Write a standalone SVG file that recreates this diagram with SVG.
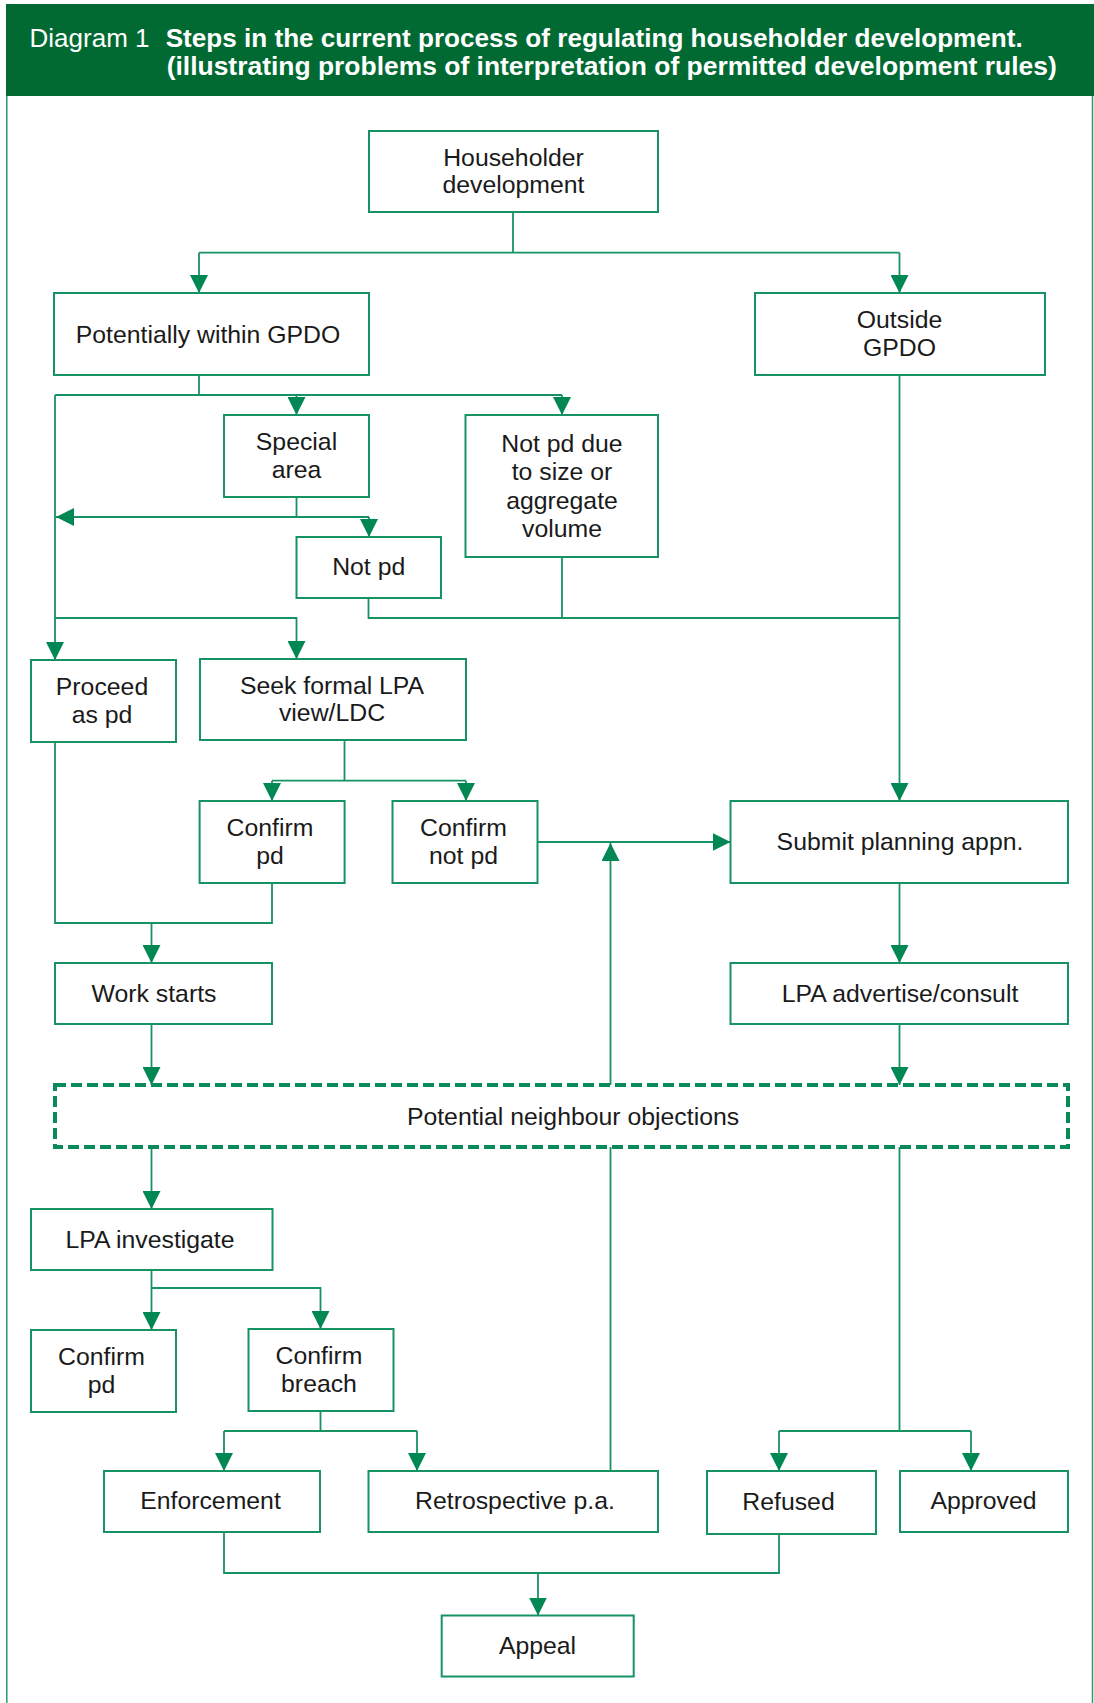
<svg xmlns="http://www.w3.org/2000/svg" width="1094" height="1703" viewBox="0 0 1094 1703">
  <style>
    .box { fill: #ffffff; stroke: #179263; stroke-width: 2; }
    .dash { fill: none; stroke: #0a8a58; stroke-width: 4; stroke-dasharray: 11 5; }
    .ln { fill: none; stroke: #179263; stroke-width: 1.8; }
    .t { font-family: "Liberation Sans", Arial, sans-serif; font-size: 24.8px; fill: #1a1a1a; text-anchor: middle; }
    .hd { font-family: "Liberation Sans", Arial, sans-serif; font-size: 25px; fill: #ffffff; }
    .hb { font-weight: bold; }
    .frame { fill: none; stroke: #2a9a6c; stroke-width: 1.5; }
  </style>
  <defs>
    <marker id="ah" markerUnits="userSpaceOnUse" markerWidth="18" markerHeight="18" viewBox="0 0 18 18" refX="18" refY="9" orient="auto">
      <path d="M0,0 L18,9 L0,18 z" fill="#008754"/>
    </marker>
  </defs>
  <rect x="0" y="0" width="1094" height="1703" fill="#ffffff"/>

  <g id="header">
    <rect x="6" y="4" width="1088" height="92" fill="#006a32"/>
    <line class="frame" x1="6.8" y1="96" x2="6.8" y2="1703"/>
    <line class="frame" x1="1092.5" y1="96" x2="1092.5" y2="1703"/>
    <text class="hd" x="29.5" y="46.5" textLength="120" lengthAdjust="spacingAndGlyphs">Diagram 1</text>
    <text class="hd hb" x="165.7" y="46.5" textLength="857" lengthAdjust="spacingAndGlyphs">Steps in the current process of regulating householder development.</text>
    <text class="hd hb" x="166.7" y="75" textLength="890" lengthAdjust="spacingAndGlyphs">(illustrating problems of interpretation of permitted development rules)</text>
  </g>

  <g id="connectors">
    <path class="ln" d="M513,212 V252.7 M199,252.7 H899.5"/>
    <path class="ln" d="M199,252.7 V293" marker-end="url(#ah)"/>
    <path class="ln" d="M899.5,252.7 V293" marker-end="url(#ah)"/>

    <path class="ln" d="M199,375 V395 M55,395 H562"/>
    <path class="ln" d="M296.5,395 V415" marker-end="url(#ah)"/>
    <path class="ln" d="M562,395 V415" marker-end="url(#ah)"/>
    <path class="ln" d="M55,395 V660" marker-end="url(#ah)"/>

    <path class="ln" d="M296.5,497 V517"/>
    <path class="ln" d="M369,517 H56" marker-end="url(#ah)"/>
    <path class="ln" d="M369,517 V537" marker-end="url(#ah)"/>

    <path class="ln" d="M368.5,598 V618 H899.5"/>
    <path class="ln" d="M562,557 V618"/>
    <path class="ln" d="M899.5,375 V801" marker-end="url(#ah)"/>

    <path class="ln" d="M55,618 H296.5 V659" marker-end="url(#ah)"/>

    <path class="ln" d="M344.5,740 V780.7 M272,780.7 H466"/>
    <path class="ln" d="M272,780.7 V801" marker-end="url(#ah)"/>
    <path class="ln" d="M466,780.7 V801" marker-end="url(#ah)"/>

    <path class="ln" d="M537.5,842 H730.5" marker-end="url(#ah)"/>
    <path class="ln" d="M610.5,1085 V843" marker-end="url(#ah)"/>

    <path class="ln" d="M55,742 V923 H272 V883"/>
    <path class="ln" d="M151.5,923 V963" marker-end="url(#ah)"/>
    <path class="ln" d="M151.5,1024 V1085" marker-end="url(#ah)"/>

    <path class="ln" d="M899.5,883 V963" marker-end="url(#ah)"/>
    <path class="ln" d="M899.5,1024 V1085" marker-end="url(#ah)"/>

    <path class="ln" d="M151.5,1147 V1209" marker-end="url(#ah)"/>
    <path class="ln" d="M151.5,1270 V1330" marker-end="url(#ah)"/>
    <path class="ln" d="M151.5,1288 H320.5 V1329" marker-end="url(#ah)"/>

    <path class="ln" d="M320.5,1411 V1431 M224,1431 H417"/>
    <path class="ln" d="M224,1431 V1471" marker-end="url(#ah)"/>
    <path class="ln" d="M417,1431 V1471" marker-end="url(#ah)"/>

    <path class="ln" d="M610.5,1471 V1147"/>

    <path class="ln" d="M899.5,1147 V1431 M779,1431 H971"/>
    <path class="ln" d="M779,1431 V1471" marker-end="url(#ah)"/>
    <path class="ln" d="M971,1431 V1471" marker-end="url(#ah)"/>

    <path class="ln" d="M224,1532 V1573 H779 V1534"/>
    <path class="ln" d="M538,1573 V1615.5" marker-end="url(#ah)"/>
  </g>

  <g id="n-householder">
    <rect class="box" x="369" y="131" width="289" height="81"/>
    <text class="t" x="513.5" y="165.5">Householder</text>
    <text class="t" x="513.5" y="193">development</text>
  </g>
  <g id="n-potentially">
    <rect class="box" x="54" y="293" width="315" height="82"/>
    <text class="t" x="208" y="342.5">Potentially within GPDO</text>
  </g>
  <g id="n-outside">
    <rect class="box" x="755" y="293" width="290" height="82"/>
    <text class="t" x="899.5" y="328">Outside</text>
    <text class="t" x="899.5" y="355.5">GPDO</text>
  </g>
  <g id="n-special">
    <rect class="box" x="224" y="415" width="145" height="82"/>
    <text class="t" x="296.5" y="450">Special</text>
    <text class="t" x="296.5" y="477.5">area</text>
  </g>
  <g id="n-notpd-size">
    <rect class="box" x="465.5" y="415" width="192.5" height="142"/>
    <text class="t" x="562" y="451.5">Not pd due</text>
    <text class="t" x="562" y="480">to size or</text>
    <text class="t" x="562" y="508.5">aggregate</text>
    <text class="t" x="562" y="537">volume</text>
  </g>
  <g id="n-notpd">
    <rect class="box" x="296.5" y="537" width="144.5" height="61"/>
    <text class="t" x="368.7" y="575">Not pd</text>
  </g>
  <g id="n-proceed">
    <rect class="box" x="31" y="660" width="145" height="82"/>
    <text class="t" x="102" y="695">Proceed</text>
    <text class="t" x="102" y="722.5">as pd</text>
  </g>
  <g id="n-seek">
    <rect class="box" x="200" y="659" width="266" height="81"/>
    <text class="t" x="332" y="693.5">Seek formal LPA</text>
    <text class="t" x="332" y="721">view/LDC</text>
  </g>
  <g id="n-confirm-pd-1">
    <rect class="box" x="199.6" y="801" width="145" height="82"/>
    <text class="t" x="270" y="836">Confirm</text>
    <text class="t" x="270" y="863.5">pd</text>
  </g>
  <g id="n-confirm-notpd">
    <rect class="box" x="392.5" y="801" width="145" height="82"/>
    <text class="t" x="463.5" y="836">Confirm</text>
    <text class="t" x="463.5" y="863.5">not pd</text>
  </g>
  <g id="n-submit">
    <rect class="box" x="730.5" y="801" width="337.5" height="82"/>
    <text class="t" x="900" y="850">Submit planning appn.</text>
  </g>
  <g id="n-work">
    <rect class="box" x="55" y="963" width="217" height="61"/>
    <text class="t" x="154" y="1001.5">Work starts</text>
  </g>
  <g id="n-advertise">
    <rect class="box" x="730.5" y="963" width="337.5" height="61"/>
    <text class="t" x="900" y="1001.5">LPA advertise/consult</text>
  </g>
  <g id="n-objections">
    <rect class="dash" x="55" y="1085" width="1013" height="62"/>
    <text class="t" x="573" y="1124.5">Potential neighbour objections</text>
  </g>
  <g id="n-investigate">
    <rect class="box" x="31" y="1209" width="241.5" height="61"/>
    <text class="t" x="150" y="1247.5">LPA investigate</text>
  </g>
  <g id="n-confirm-pd-2">
    <rect class="box" x="31" y="1330" width="145" height="82"/>
    <text class="t" x="101.5" y="1365">Confirm</text>
    <text class="t" x="101.5" y="1392.5">pd</text>
  </g>
  <g id="n-breach">
    <rect class="box" x="248.5" y="1329" width="145" height="82"/>
    <text class="t" x="319" y="1364">Confirm</text>
    <text class="t" x="319" y="1391.5">breach</text>
  </g>
  <g id="n-enforcement">
    <rect class="box" x="104" y="1471" width="216" height="61"/>
    <text class="t" x="210.5" y="1509">Enforcement</text>
  </g>
  <g id="n-retro">
    <rect class="box" x="368.5" y="1471" width="289.5" height="61"/>
    <text class="t" x="515" y="1509">Retrospective p.a.</text>
  </g>
  <g id="n-refused">
    <rect class="box" x="707" y="1471" width="169" height="63"/>
    <text class="t" x="788.5" y="1510">Refused</text>
  </g>
  <g id="n-approved">
    <rect class="box" x="900" y="1471" width="168" height="61"/>
    <text class="t" x="983.5" y="1509">Approved</text>
  </g>
  <g id="n-appeal">
    <rect class="box" x="441.7" y="1615.5" width="192" height="61"/>
    <text class="t" x="537.5" y="1653.5">Appeal</text>
  </g>
</svg>
